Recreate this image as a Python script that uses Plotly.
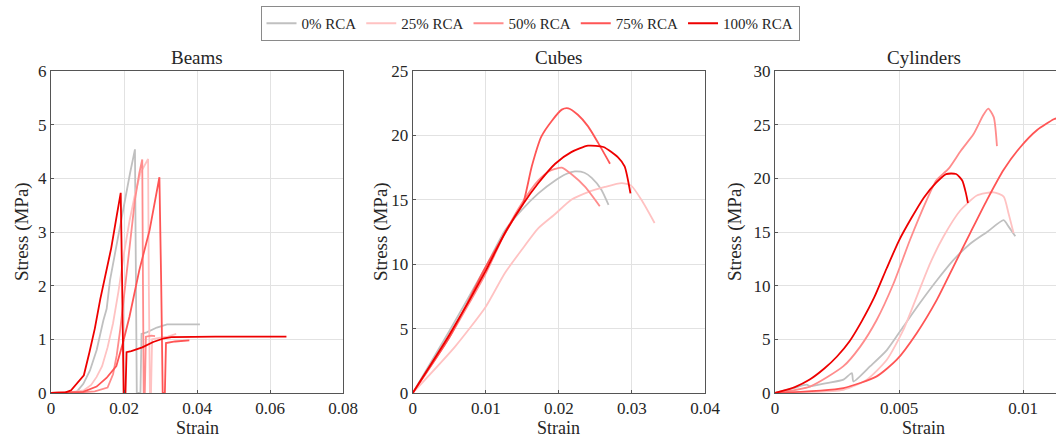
import plotly.graph_objects as go

W, H = 1056, 438

series_names = ["0% RCA", "25% RCA", "50% RCA", "75% RCA", "100% RCA"]
series_colors = ["#c0c0c0", "#ffc2c2", "#ff8c8c", "#ff5555", "#ee0000"]

# ---------------- Beams ----------------
beams_strain_0 = [0, 0.005, 0.00703, 0.00886, 0.01068, 0.01251, 0.01434, 0.01525, 0.01616, 0.01799, 0.01982, 0.02164, 0.0230, 0.0233, 0.0235, 0.0245, 0.0248, 0.0262, 0.0290, 0.0318, 0.0408]
beams_stress_0 = [0, 0.0, 0.02, 0.17, 0.42, 0.80, 1.35, 1.57, 2.10, 2.78, 3.47, 4.09, 4.54, 2.0, 0.0, 0.0, 1.10, 1.13, 1.22, 1.28, 1.28]

beams_strain_25 = [0, 0.006, 0.009, 0.011, 0.0125, 0.014, 0.0155, 0.017, 0.0185, 0.020, 0.0215, 0.023, 0.0245, 0.0266, 0.0268, 0.0271, 0.0274, 0.0277, 0.0300, 0.0320, 0.0343]
beams_stress_25 = [0, 0.02, 0.05, 0.15, 0.30, 0.50, 0.85, 1.30, 1.90, 2.60, 3.20, 3.70, 4.10, 4.36, 2.0, 0.0, 0.0, 1.00, 1.03, 1.05, 1.10]

beams_strain_50 = [0, 0.008, 0.012, 0.0155, 0.017, 0.018, 0.019, 0.020, 0.021, 0.022, 0.023, 0.0242, 0.0250, 0.0252, 0.0254, 0.0257, 0.0260, 0.0275, 0.0285]
beams_stress_50 = [0, 0.01, 0.03, 0.10, 0.35, 0.70, 1.20, 1.80, 2.40, 3.00, 3.60, 4.10, 4.35, 2.0, 0.0, 0.0, 1.05, 1.07, 1.06]

beams_strain_75 = [0, 0.0088, 0.0125, 0.0152, 0.0179, 0.0197, 0.0215, 0.0242, 0.0270, 0.0297, 0.0302, 0.0306, 0.0312, 0.0315, 0.0340, 0.0379]
beams_stress_75 = [0, 0.02, 0.12, 0.28, 0.50, 0.93, 1.42, 2.29, 3.03, 4.02, 2.0, 0.0, 0.0, 0.93, 0.96, 0.98]

beams_strain_100 = [0, 0.004, 0.0055, 0.0075, 0.009, 0.0105, 0.012, 0.0135, 0.015, 0.0165, 0.018, 0.0191, 0.0195, 0.0199, 0.0204, 0.0207, 0.022, 0.025, 0.028, 0.031, 0.033, 0.045, 0.0645]
beams_stress_100 = [0, 0.01, 0.05, 0.20, 0.33, 0.75, 1.20, 1.75, 2.25, 2.70, 3.30, 3.73, 2.00, 0.00, 0.00, 0.76, 0.78, 0.85, 0.95, 1.02, 1.04, 1.05, 1.05]

# ---------------- Cubes ----------------
cubes_strain_0 = [0, 0.005, 0.010, 0.0126, 0.0149, 0.0172, 0.0195, 0.0210, 0.0222, 0.0235, 0.0245, 0.0258, 0.0268]
cubes_stress_0 = [0, 4.8, 9.8, 12.6, 14.2, 15.5, 16.5, 17.0, 17.2, 17.1, 16.7, 15.8, 14.6]

cubes_strain_25 = [0, 0.0058, 0.010, 0.0126, 0.0149, 0.0172, 0.0195, 0.0217, 0.0240, 0.0263, 0.0286, 0.0299, 0.0313, 0.0331]
cubes_stress_25 = [0, 3.6, 6.7, 9.3, 11.1, 12.8, 13.9, 15.0, 15.6, 16.0, 16.3, 16.1, 15.0, 13.2]

cubes_strain_50 = [0, 0.005, 0.010, 0.0126, 0.0149, 0.0172, 0.0186, 0.0195, 0.0204, 0.0217, 0.0236, 0.0256]
cubes_stress_50 = [0, 4.3, 9.3, 12.4, 14.7, 16.5, 17.2, 17.4, 17.5, 17.0, 16.0, 14.5]

cubes_strain_75 = [0, 0.005, 0.010, 0.014, 0.0151, 0.0163, 0.0176, 0.0190, 0.0204, 0.0213, 0.0226, 0.0240, 0.0254, 0.0270]
cubes_stress_75 = [0, 4.3, 9.8, 13.7, 14.7, 17.6, 19.9, 21.1, 22.0, 22.1, 21.6, 20.7, 19.4, 17.8]

cubes_strain_100 = [0, 0.005, 0.010, 0.0126, 0.0149, 0.0172, 0.0195, 0.0217, 0.0240, 0.0261, 0.0281, 0.0290, 0.0298]
cubes_stress_100 = [0, 4.5, 9.5, 12.4, 14.5, 16.3, 17.8, 18.7, 19.2, 19.1, 18.3, 17.6, 15.5]

# ---------------- Cylinders ----------------
cyl_strain_0 = [0, 0.00074, 0.00128, 0.00141, 0.00209, 0.00276, 0.00310, 0.00316, 0.00384, 0.00451, 0.00518, 0.00585, 0.00653, 0.00720, 0.00787, 0.00855, 0.00922, 0.00942, 0.00969]
cyl_stress_0 = [0, 0.45, 0.78, 0.62, 0.93, 1.24, 1.86, 1.08, 2.5, 4.0, 6.2, 8.4, 10.5, 12.4, 13.9, 15.0, 16.1, 15.5, 14.6]

cyl_strain_25 = [0, 0.00276, 0.00370, 0.00451, 0.00518, 0.00572, 0.00626, 0.00680, 0.00747, 0.00814, 0.00882, 0.00922, 0.00942, 0.00962]
cyl_stress_25 = [0, 0.3, 1.24, 3.1, 5.9, 9.0, 12.1, 14.6, 17.0, 18.4, 18.7, 18.3, 16.7, 14.9]

cyl_strain_50 = [0, 0.00141, 0.00276, 0.00343, 0.00410, 0.00478, 0.00545, 0.00612, 0.00650, 0.00700, 0.00750, 0.00800, 0.00840, 0.00860, 0.00882, 0.00895]
cyl_stress_50 = [0, 0.6, 2.5, 4.3, 6.8, 10.2, 14.3, 18.0, 19.8, 20.9, 22.6, 24.1, 25.9, 26.5, 25.7, 23.0]

cyl_strain_75 = [0, 0.00276, 0.00410, 0.00491, 0.00572, 0.00653, 0.00720, 0.00787, 0.00855, 0.00922, 0.00989, 0.01057, 0.01124, 0.01137]
cyl_stress_75 = [0, 0.46, 1.55, 3.1, 5.6, 8.7, 11.8, 14.9, 18.0, 20.8, 22.9, 24.5, 25.5, 25.6]

cyl_strain_100 = [0, 0.0008, 0.0014, 0.0020, 0.0025, 0.0030, 0.0035, 0.0040, 0.0045, 0.0050, 0.0055, 0.0060, 0.0065, 0.0069, 0.0073, 0.00755, 0.0077, 0.00778]
cyl_stress_100 = [0, 0.55, 1.25, 2.3, 3.4, 4.8, 6.7, 8.9, 11.6, 14.2, 16.3, 18.2, 19.6, 20.4, 20.4, 19.8, 18.6, 17.7]

panel_titles = ["Beams", "Cubes", "Cylinders"]
x_label = "Strain"
y_label = "Stress (MPa)"

beams_xticks = [0, 0.02, 0.04, 0.06, 0.08]
beams_yticks = [0, 1, 2, 3, 4, 5, 6]
cubes_xticks = [0, 0.01, 0.02, 0.03, 0.04]
cubes_yticks = [0, 5, 10, 15, 20, 25]
cyl_xticks = [0, 0.005, 0.01]
cyl_yticks = [0, 5, 10, 15, 20, 25, 30]

panels = [
    ([beams_strain_0, beams_strain_25, beams_strain_50, beams_strain_75, beams_strain_100],
     [beams_stress_0, beams_stress_25, beams_stress_50, beams_stress_75, beams_stress_100]),
    ([cubes_strain_0, cubes_strain_25, cubes_strain_50, cubes_strain_75, cubes_strain_100],
     [cubes_stress_0, cubes_stress_25, cubes_stress_50, cubes_stress_75, cubes_stress_100]),
    ([cyl_strain_0, cyl_strain_25, cyl_strain_50, cyl_strain_75, cyl_strain_100],
     [cyl_stress_0, cyl_stress_25, cyl_stress_50, cyl_stress_75, cyl_stress_100]),
]
panel_shapes = ["linear", "spline", "spline"]

FONT = "Liberation Serif"
TXT = "#262626"

fig = go.Figure()
for p, (xs, ys) in enumerate(panels):
    xa = "x" if p == 0 else f"x{p+1}"
    ya = "y" if p == 0 else f"y{p+1}"
    for i in range(5):
        line = dict(color=series_colors[i], width=1.8, shape=panel_shapes[p])
        if panel_shapes[p] == "spline":
            line["smoothing"] = 0.6
        fig.add_trace(go.Scatter(
            x=xs[i], y=ys[i], mode="lines", name=series_names[i],
            line=line, xaxis=xa, yaxis=ya, showlegend=(p == 0),
        ))

# pixel geometry
ML, MR, MT, MB = 51, 0, 71, 45
PW, PH = W - ML - MR, H - MT - MB
px_left = [51, 412.7, 775]
px_right = [343, 705, 1056]


def fx(px):
    return (px - ML) / PW


def fy(py):
    return (H - MB - py) / PH


xranges = [[0, 0.08], [0, 0.04], [0, 0.005 * (1056 - 775) / 124]]
yranges = [[0, 6], [0, 25], [0, 30]]
xticks = [beams_xticks, cubes_xticks, cyl_xticks]
yticks = [beams_yticks, cubes_yticks, cyl_yticks]

axis_common = dict(
    showgrid=True, gridcolor="#e2e2e2", gridwidth=1,
    showline=True, linecolor="#555555", linewidth=1,
    zeroline=False, ticks="inside", ticklen=3, tickcolor="#555555",
    tickfont=dict(family=FONT, size=17, color=TXT), automargin=False,
)

layout = dict(
    width=W, height=H, margin=dict(l=ML, r=MR, t=MT, b=MB, autoexpand=False),
    paper_bgcolor="white", plot_bgcolor="white",
    font=dict(family=FONT, size=17, color=TXT),
    legend=dict(
        orientation="h", x=fx(530), xanchor="center", y=fy(6), yanchor="top",
        bordercolor="#8a8a8a", borderwidth=1, bgcolor="white",
        font=dict(family=FONT, size=15, color=TXT),
        itemwidth=30, tracegroupgap=0,
    ),
)

annotations = []
for p in range(3):
    xk = "xaxis" if p == 0 else f"xaxis{p+1}"
    yk = "yaxis" if p == 0 else f"yaxis{p+1}"
    yref = "y" if p == 0 else f"y{p+1}"
    xdom = [max(fx(px_left[p]), 0.0), min(fx(px_right[p]), 1.0)]
    layout[xk] = dict(axis_common, domain=xdom, range=xranges[p], tickvals=xticks[p],
                      ticktext=[f"{v:g}" for v in xticks[p]], anchor=yref,
                      mirror=True)
    layout[yk] = dict(axis_common, domain=[0, 1], range=yranges[p], tickvals=yticks[p],
                      anchor="x" if p == 0 else f"x{p+1}",
                      mirror=(p < 2))
    cx = (px_left[p] + (px_right[p] if p < 2 else 775 + 0.012 / 0.005 * 124)) / 2
    annotations.append(dict(text=panel_titles[p], x=fx(cx), y=fy(57), xref="paper", yref="paper",
                            showarrow=False, font=dict(family=FONT, size=19, color=TXT),
                            xanchor="center", yanchor="middle"))
    annotations.append(dict(text=x_label, x=fx(cx), y=fy(428), xref="paper", yref="paper",
                            showarrow=False, font=dict(family=FONT, size=18, color=TXT),
                            xanchor="center", yanchor="middle"))
    ylx = [22, 381, 735][p]
    annotations.append(dict(text=y_label, x=fx(ylx), y=fy(232), xref="paper", yref="paper",
                            showarrow=False, textangle=-90, font=dict(family=FONT, size=19, color=TXT),
                            xanchor="center", yanchor="middle"))
layout["annotations"] = annotations

fig.update_layout(**layout)
fig.write_html("out.html", config={"displayModeBar": False},
               post_script="document.body.style.margin='0px';")
